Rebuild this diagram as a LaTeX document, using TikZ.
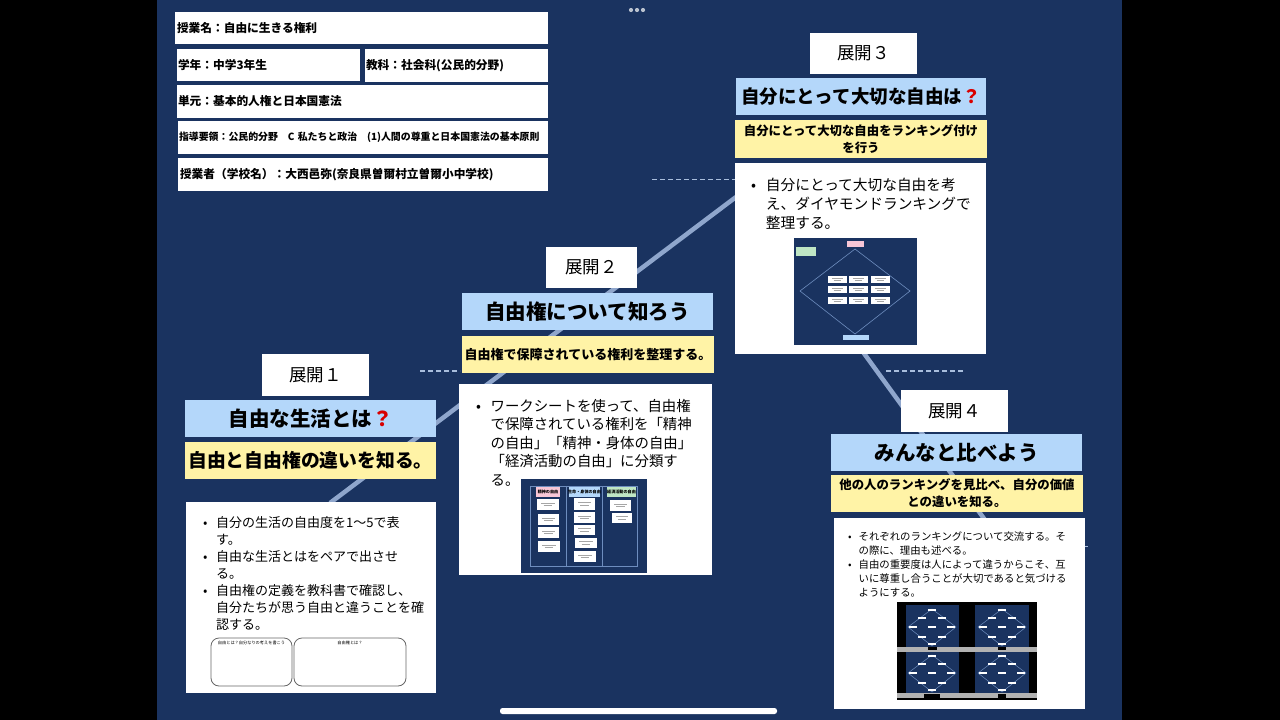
\documentclass[tikz,border=0pt]{standalone}
\usepackage{fontspec}
\setmainfont{Noto Sans CJK JP}
\usetikzlibrary{calc}
\definecolor{navy}{HTML}{1A3360}
\definecolor{blueb}{HTML}{B4D7FA}
\definecolor{yellowb}{HTML}{FFF3A6}
\definecolor{linec}{HTML}{8FA6CC}
\definecolor{dashc}{HTML}{A9BEDD}
\definecolor{thumbl}{HTML}{6E8DBE}
\definecolor{pinkb}{HTML}{F7C6D6}
\definecolor{greenb}{HTML}{BFE6C4}
\newcommand{\fs}[2]{\fontsize{#1}{#2}\selectfont}
\newcommand{\bu}{\makebox[1em][l]{•}}
\newcommand{\ind}{\hspace*{1em}}
\newcommand{\qm}{\textcolor{red!85!black}{？}}
% white mini card with grey text bars: x1 y1 x2 y2
\newcommand{\card}[4]{%
  \fill[white] (#1,#2) rectangle (#3,#4);
  \draw[gray!70,line width=.8pt] ($(#1,#2)!.5!(#3,#4)+({-(#3-#1)*.3},-1.2)$) -- ++({(#3-#1)*.6},0);
  \draw[gray!70,line width=.8pt] ($(#1,#2)!.5!(#3,#4)+({-(#3-#1)*.2},1.2)$) -- ++({(#3-#1)*.4},0);
}
% small ranking diagram in the class-screens thumbnail: centre x, centre y
\newcommand{\minirank}[2]{%
  \begin{scope}[shift={(#1,#2)}]
    \draw[thumbl,line width=.5pt] (0,-18) -- (24,0) -- (0,19) -- (-24,0) -- cycle;
    \foreach \dx/\dy in {0/-17,-10/-9,10/-9,-19/0,0/0,19/0,-10/10,10/10,0/17}{
      \fill[white] ({\dx-4},{\dy-1.2}) rectangle ({\dx+4},{\dy+1.2});
    }
  \end{scope}%
}
\tikzset{
  x=1pt,y=-1pt,
  plain/.style={draw=none,fill=white,inner sep=0pt,outer sep=0pt,text=black},
  headbox/.style={plain,align=left,anchor=north west,font=\bfseries},
  tenkai/.style={plain,font=\fs{17.5}{20}},
  titlebox/.style={plain,fill=blueb,font=\fs{20.5}{24}\bfseries},
  taskbox/.style={plain,fill=yellowb,align=center,font=\fs{12.4}{17}\bfseries},
  bodytext/.style={inner sep=0pt,anchor=north west,align=left,text=black},
  link/.style={linec,line width=4.5pt},
  dashline/.style={dashc,line width=1.8pt,dash pattern=on 5pt off 3pt},
  tline/.style={thumbl,line width=.6pt},
  tiny/.style={inner sep=0pt,text=black,font=\fs{4.2}{5}},
  thead/.style={inner sep=0pt,text=black,font=\fs{4.1}{5}\bfseries},
}
\begin{document}
\begin{tikzpicture}
\useasboundingbox (0,0) rectangle (1280,720);
\fill[black] (0,0) rectangle (1280,720);
\fill[navy] (157,0) rectangle (1122,720);
\foreach \x in {631,637,643}{\fill[white!70!navy] (\x,10) circle (2.1);}

% timeline behind the boxes
\coordinate (l1) at (330,503);
\coordinate (l2) at (736,197);
\coordinate (l3) at (863,352);
\coordinate (l4) at (985,520);
\coordinate (d1a) at (652,179.5); \coordinate (d1b) at (735,179.5);
\coordinate (d2a) at (420,371); \coordinate (d2b) at (460,371);
\coordinate (d3a) at (886,371); \coordinate (d3b) at (964,371);
\coordinate (d4a) at (1085,546.5); \coordinate (d4b) at (1088,546.5);
\draw[link] (l1) -- (l2);
\draw[link] (l3) -- (l4);
\draw[dashline] (d1a) -- (d1b);
\draw[dashline] (d2a) -- (d2b);
\draw[dashline] (d3a) -- (d3b);
\draw[dashline] (d4a) -- (d4b);

% header table
\node[headbox,font=\fs{11.7}{14}\bfseries,minimum height=32pt,text width=369pt,inner xsep=2pt] (h1) at (175,12) {\raisebox{-1pt}{授業名：自由に生きる権利}};
\node[headbox,font=\fs{11.7}{14}\bfseries,minimum height=32pt,text width=181pt,inner xsep=1pt] (h2) at (177,49) {\raisebox{-1pt}{学年：中学3年生}};
\node[headbox,font=\fs{11.7}{14}\bfseries,minimum height=33pt,text width=181pt,inner xsep=1pt] (h3) at (365,49) {\raisebox{-1pt}{教科：社会科(公民的分野)}};
\node[headbox,font=\fs{11.7}{14}\bfseries,minimum height=33pt,text width=369pt,inner xsep=1pt] (h4) at (177,85) {\raisebox{-1pt}{単元：基本的人権と日本国憲法}};
\node[headbox,font=\fs{9.9}{12}\bfseries,minimum height=33pt,text width=368pt,inner xsep=1pt] (h5) at (178,121) {\raisebox{-1pt}{指導要領：公民的分野　C 私たちと政治　(1)人間の尊重と日本国憲法の基本原則}};
\node[headbox,font=\fs{11.7}{14}\bfseries,minimum height=33pt,text width=366pt,inner xsep=2pt] (h6) at (178,158) {\raisebox{-1pt}{授業者（学校名）：大西邑弥(奈良県曽爾村立曽爾小中学校)}};

% step 1
\node[tenkai,minimum width=107pt,minimum height=42pt] (s1) at (315.5,375) {\raisebox{-2pt}{展開１}};
\node[titlebox,minimum width=251pt,minimum height=37pt] (t1) at (310.5,418.5) {自由な生活とは\qm};
\node[taskbox,font=\fs{18.8}{22}\bfseries,minimum width=251pt,minimum height=37pt] (k1) at (310.5,460.5) {自由と自由権の違いを知る。};
\node[plain,minimum width=250pt,minimum height=191pt] (b1) at (311,597.5) {};
\node[bodytext,font=\fs{13}{17}] (x1) at (203,516) {\bu 自分の生活の自由度を1〜5で表\\\ind す。\\\bu 自由な生活とはをペアで出させ\\\ind る。\\\bu 自由権の定義を教科書で確認し、\\\ind 自分たちが思う自由と違うことを確\\\ind 認する。};
\node[draw=black!60,line width=.8pt,rounded corners=8pt,minimum width=81pt,minimum height=48pt,inner sep=0pt] (f1) at (251.5,662) {};
\node[draw=black!60,line width=.8pt,rounded corners=8pt,minimum width=112pt,minimum height=48pt,inner sep=0pt] (f2) at (350,662) {};
\node[tiny] (f1t) at (251.5,643) {自由とは？自分なりの考えを書こう};
\node[tiny] (f2t) at (350,643) {自由権とは？};

% step 2
\node[tenkai,minimum width=91pt,minimum height=41pt] (s2) at (591.5,267.5) {\raisebox{-2pt}{展開２}};
\node[titlebox,minimum width=251pt,minimum height=37pt] (t2) at (587.5,311.5) {自由権について知ろう};
\node[taskbox,font=\fs{13}{17}\bfseries,minimum width=252pt,minimum height=37pt] (k2) at (588,354.5) {自由権で保障されている権利を整理する。};
\node[plain,minimum width=253pt,minimum height=191pt] (b2) at (585.5,479.5) {};
\node[bodytext,font=\fs{14.4}{18.5}] (x2) at (476,399) {\bu ワークシートを使って、自由権\\\ind で保障されている権利を「精神\\\ind の自由」「精神・身体の自由」\\\ind 「経済活動の自由」に分類す\\\ind る。};
\fill[navy] (521,479) rectangle (647,573);
\fill[pinkb] (536,486) rectangle (560,497);
\fill[blueb] (569,486) rectangle (600,497);
\fill[greenb] (607,486) rectangle (636,497);
\node[thead] (c1) at (548,491.5) {精神の自由};
\node[thead] (c2) at (584.5,491.5) {生命・身体の自由};
\node[thead] (c3) at (621.5,491.5) {経済活動の自由};
\draw[tline] (530,486) rectangle (637,566) (566,486) -- (566,566) (602,486) -- (602,566);
\card{537}{499}{559}{510}\card{538}{514}{559}{525}\card{538}{527}{559}{538}\card{538}{541}{560}{552}
\card{574}{498}{595}{510}\card{574}{512}{595}{523}\card{574}{525}{595}{535}\card{575}{538}{597}{548}\card{574}{551}{596}{562}
\card{610}{500}{631}{511}\card{612}{513}{632}{523}

% step 3
\node[tenkai,minimum width=107pt,minimum height=41pt] (s3) at (863.5,53.5) {\raisebox{-2pt}{展開３}};
\node[titlebox,font=\fs{18.5}{22}\bfseries,minimum width=250pt,minimum height=37pt] (t3) at (861,96.5) {自分にとって大切な自由は\qm};
\node[taskbox,minimum width=252pt,minimum height=38pt] (k3) at (861,139) {自分にとって大切な自由をランキング付け\\を行う};
\node[plain,minimum width=251pt,minimum height=191pt] (b3) at (860.5,258.5) {};
\node[bodytext,font=\fs{14.7}{19}] (x3) at (751,178) {\bu 自分にとって大切な自由を考\\\ind え、ダイヤモンドランキングで\\\ind 整理する。};
\fill[navy] (794,238) rectangle (917,345);
\draw[thumbl,line width=.6pt] (855,249) -- (910,291) -- (855,334) -- (800,291) -- cycle;
\fill[pinkb] (847,241) rectangle (864,247);
\fill[greenb] (796,247) rectangle (816,256);
\fill[blueb] (843,335) rectangle (869,340);
\foreach \cx in {828,849,871}{\foreach \cy in {276,286,297}{
  \card{\cx}{\cy}{\the\numexpr\cx+19\relax}{\the\numexpr\cy+7\relax}
}}

% step 4
\node[tenkai,minimum width=107pt,minimum height=42pt] (s4) at (954.5,411) {\raisebox{-2pt}{展開４}};
\node[titlebox,minimum width=251pt,minimum height=37pt] (t4) at (956.5,452.5) {みんなと比べよう};
\node[taskbox,minimum width=252pt,minimum height=37pt] (k4) at (957,493.5) {他の人のランキングを見比べ、自分の価値\\との違いを知る。};
\node[plain,minimum width=251pt,minimum height=191pt] (b4) at (959.5,613.5) {};
\node[bodytext,font=\fs{10.4}{14}] (x4) at (848,531.5) {\bu それぞれのランキングについて交流する。そ\\\ind の際に、理由も述べる。\\\bu 自由の重要度は人によって違うからこそ、互\\\ind いに尊重し合うことが大切であると気づける\\\ind ようにする。};
\fill[black] (897,602) rectangle (1037,700);
\fill[navy] (906,605) rectangle (959,647);
\fill[navy] (975,605) rectangle (1029,647);
\fill[navy] (906,652) rectangle (959,693);
\fill[navy] (975,652) rectangle (1029,693);
\fill[gray!60] (897,647) rectangle (1037,652);
\fill[gray!60] (897,693) rectangle (1037,698);
\fill[black] (928,647) rectangle (937,650);
\fill[black] (998,647) rectangle (1006,650);
\fill[black] (924,694) rectangle (940,698);
\fill[black] (998,694) rectangle (1006,698);
\minirank{932}{627}\minirank{1002}{627}\minirank{932}{673}\minirank{1002}{673}

% home bar
\fill[white,rounded corners=2.5pt] (500,708) rectangle (777,714);
\end{tikzpicture}
\end{document}
